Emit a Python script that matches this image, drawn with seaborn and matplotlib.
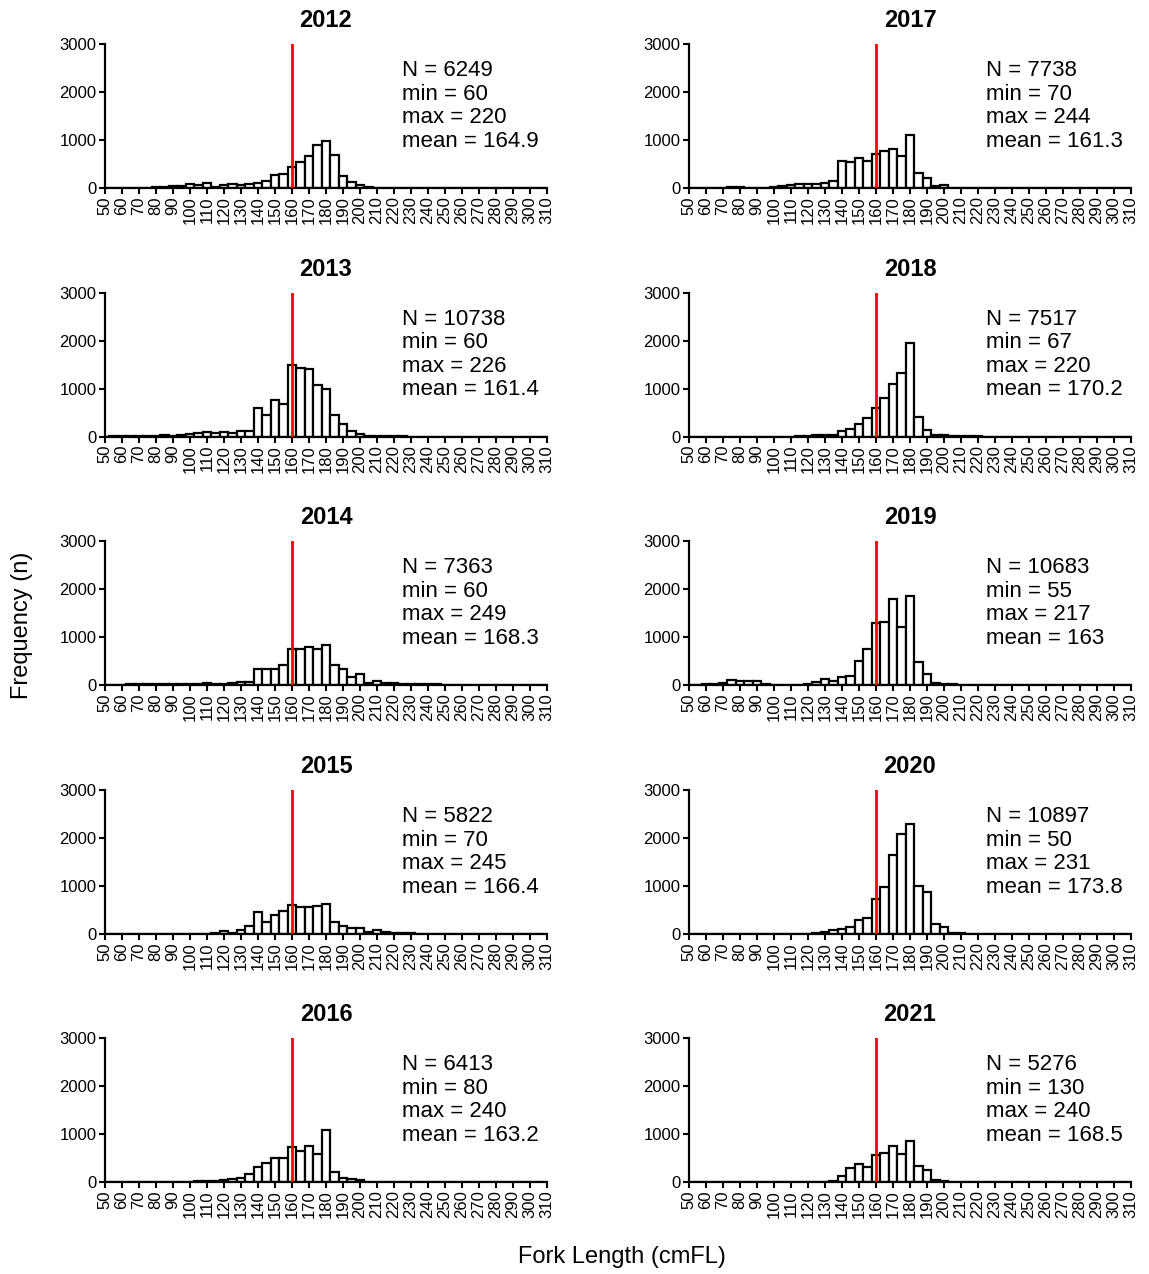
import numpy as np
import pandas as pd
import matplotlib
matplotlib.use('Agg')
import matplotlib.pyplot as plt
import matplotlib.transforms as mtransforms
import seaborn as sns

# bin centres (cmFL), 5 cm bins
lengths = list(range(50, 315, 5))

years = [2012, 2013, 2014, 2015, 2016, 2017, 2018, 2019, 2020, 2021]
n_fish = [6249, 10738, 7363, 5822, 6413, 7738, 7517, 10683, 10897, 5276]
min_fl = [60, 60, 60, 70, 80, 70, 67, 55, 50, 130]
max_fl = [220, 226, 249, 245, 240, 244, 220, 217, 231, 240]
mean_fl = ['164.9', '161.4', '168.3', '166.4', '163.2', '161.3', '170.2', '163', '173.8', '168.5']

# counts per 5 cm bin, starting at 50 cm (remaining bins are zero)
c2012 = [0, 0, 2, 2, 5, 10, 20, 30, 40, 45,
         90, 55, 105, 30, 60, 85, 70, 75, 105, 140,
         265, 295, 430, 550, 665, 900, 985, 695, 260, 120,
         55, 15, 5, 2, 1]
c2013 = [0, 10, 10, 5, 5, 10, 20, 25, 20, 30,
         55, 65, 85, 70, 90, 70, 125, 110, 600, 440,
         760, 680, 1490, 1430, 1400, 1080, 1000, 450, 260, 110,
         60, 15, 10, 5, 5, 3]
c2014 = [0, 5, 10, 15, 20, 25, 20, 25, 25, 15,
         30, 30, 35, 30, 30, 35, 55, 60, 330, 330,
         330, 410, 760, 740, 800, 760, 830, 420, 330, 160,
         230, 40, 80, 45, 35, 25, 20, 25, 30, 15, 5]
c2015 = [0, 0, 0, 0, 5, 5, 5, 5, 10, 10,
         10, 10, 10, 20, 55, 30, 75, 160, 460, 250,
         390, 480, 600, 565, 555, 580, 615, 260, 170, 120,
         120, 35, 85, 50, 30, 25, 15, 10, 5]
c2016 = [0, 0, 0, 0, 0, 0, 0, 0, 0, 5,
         10, 15, 15, 30, 40, 60, 90, 160, 320, 395,
         490, 490, 730, 640, 740, 580, 1090, 215, 90, 70,
         40, 10, 5]
c2017 = [0, 0, 0, 0, 5, 25, 25, 5, 0, 5,
         20, 35, 65, 75, 75, 90, 110, 150, 555, 545,
         630, 570, 700, 780, 820, 670, 1110, 315, 215, 35,
         55, 10, 5]
c2018 = [0, 0, 0, 0, 0, 0, 0, 0, 0, 0,
         0, 0, 0, 5, 20, 35, 35, 30, 110, 160,
         265, 390, 590, 810, 1090, 1320, 1950, 410, 130, 30,
         25, 10, 10, 10, 5]
c2019 = [0, 10, 15, 25, 35, 110, 75, 75, 75, 30,
         5, 5, 10, 5, 30, 65, 120, 90, 165, 195,
         510, 755, 1290, 1315, 1790, 1200, 1860, 480, 220, 35,
         20, 15, 10, 5]
c2020 = [0, 0, 0, 0, 0, 0, 0, 0, 0, 0,
         0, 0, 0, 5, 10, 25, 50, 75, 110, 150,
         295, 335, 730, 980, 1650, 2080, 2290, 1000, 880, 200,
         150, 25, 20, 10, 5]
c2021 = [0, 0, 0, 0, 0, 0, 0, 0, 0, 0,
         0, 0, 0, 0, 0, 0, 10, 30, 135, 290,
         370, 315, 570, 600, 760, 590, 850, 335, 250, 50,
         25, 5]

series = [c2012, c2013, c2014, c2015, c2016, c2017, c2018, c2019, c2020, c2021]
ref_line = 160

sns.set_style('ticks')
plt.rcParams['font.family'] = ['Liberation Sans', 'DejaVu Sans']
plt.rcParams['text.color'] = 'black'
plt.rcParams['axes.labelcolor'] = 'black'
plt.rcParams['xtick.color'] = 'black'
plt.rcParams['ytick.color'] = 'black'
plt.rcParams['axes.edgecolor'] = 'black'

fig = plt.figure(figsize=(11.49, 12.74), dpi=100)
W, H = 1149, 1274
col_left = [105, 689]
row_top = [44, 292.5, 541, 790, 1038]
ax_w, ax_h = 442, 144
label_shift = mtransforms.ScaledTranslation(3 / 100, 0, fig.dpi_scale_trans)

for i, yr in enumerate(years):
    col = i // 5
    row = i % 5
    ax = fig.add_axes([col_left[col] / W, 1 - (row_top[row] + ax_h) / H, ax_w / W, ax_h / H])
    counts = series[i] + [0] * (len(lengths) - len(series[i]))
    df = pd.DataFrame({'length': lengths, 'n': counts})
    sns.histplot(data=df, x='length', weights='n', binwidth=5, binrange=(47.5, 312.5),
                 ax=ax, color='white', edgecolor='black', linewidth=1.6, alpha=1)
    ax.axvline(ref_line, color='red', lw=2, zorder=5)
    ax.set_xlim(50, 310)
    ax.set_ylim(0, 3000)
    ax.set_xticks(range(50, 311, 10))
    ax.set_xticklabels([str(v) for v in range(50, 311, 10)], rotation=90)
    for lab in ax.get_xticklabels():
        lab.set_transform(lab.get_transform() + label_shift)
    ax.set_yticks([0, 1000, 2000, 3000])
    ax.tick_params(axis='both', labelsize=12, width=1.5, length=4, pad=2)
    ax.set_xlabel('')
    ax.set_ylabel('')
    for s in ['left', 'bottom']:
        ax.spines[s].set_linewidth(1.6)
    sns.despine(ax=ax)
    ax.set_title(str(yr), fontsize=17, fontweight='bold', pad=12)
    ax.text(0.672, 0.888,
            f'N = {n_fish[i]}\nmin = {min_fl[i]}\nmax = {max_fl[i]}\nmean = {mean_fl[i]}',
            transform=ax.transAxes, ha='left', va='top', fontsize=16, linespacing=1.16)

fig.text(22 / W, 1 - 625 / H, 'Frequency (n)', rotation=90, ha='center', va='center', fontsize=17)
fig.text(622 / W, 1 - 1257 / H, 'Fork Length (cmFL)', ha='center', va='center', fontsize=17)

fig.savefig('out.png', dpi=100)
